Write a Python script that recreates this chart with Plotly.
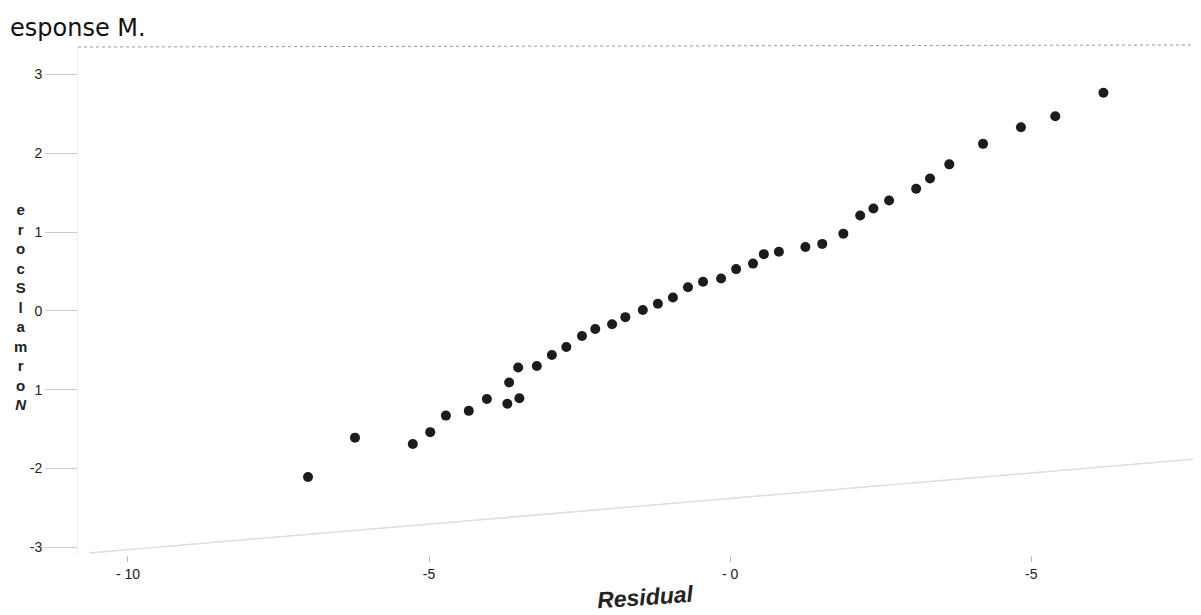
import plotly.graph_objects as go

# Residual (x) and normal score (y) values
residual = [-7.01, -6.23, -5.27, -4.98, -4.72, -4.34, -4.04, -3.70, -3.50, -3.67,
            -3.52, -3.21, -2.96, -2.72, -2.46, -2.24, -1.96, -1.74, -1.45, -1.20,
            -0.95, -0.70, -0.45, -0.15, 0.10, 0.38, 0.56, 0.81, 1.25, 1.53,
            1.88, 2.16, 2.38, 2.64, 3.09, 3.32, 3.64, 4.20, 4.83, 5.40, 6.20]
normal_score = [-2.11, -1.61, -1.69, -1.54, -1.33, -1.27, -1.12, -1.18, -1.11, -0.91,
                -0.72, -0.70, -0.56, -0.46, -0.32, -0.23, -0.17, -0.08, 0.01, 0.09,
                0.17, 0.30, 0.37, 0.41, 0.53, 0.60, 0.72, 0.75, 0.81, 0.85,
                0.98, 1.21, 1.30, 1.40, 1.55, 1.68, 1.86, 2.12, 2.33, 2.47, 2.77]

x_tickvals = [-10, -5, 0, 5]
x_ticktext = ["- 10", "-5", "- 0", "-5"]
y_tickvals = [-3, -2, -1, 0, 1, 2, 3]
y_ticktext = ["-3", "-2", "1", "0", "1", "2", "3"]

fig = go.Figure()
fig.add_trace(go.Scatter(
    x=residual, y=normal_score, mode="markers",
    marker=dict(color="#1c1c1e", size=10, symbol="circle", line=dict(width=0)),
    showlegend=False,
))

fig.update_layout(
    width=1193, height=607,
    margin=dict(l=70, r=0, t=39, b=60, autoexpand=False),
    paper_bgcolor="white", plot_bgcolor="white",
    font=dict(family="Liberation Sans, Arial, sans-serif", color="#222", size=14),
    xaxis=dict(range=[-10.83, 7.82], tickvals=x_tickvals, ticktext=x_ticktext,
               showgrid=False, zeroline=False, showline=False, automargin=False,
               ticks="outside", ticklen=6, tickcolor="#bbb",
               tickfont=dict(size=14, color="#222")),
    yaxis=dict(range=[-3.1, 3.35], tickvals=y_tickvals, ticktext=y_ticktext,
               showgrid=False, zeroline=False, showline=True, linecolor="#eee",
               automargin=False,
               ticks="outside", ticklen=32, tickcolor="#ccc",
               tickfont=dict(size=14, color="#222")),
    shapes=[
        dict(type="line", xref="paper", yref="paper", x0=0, x1=1, y0=1, y1=1.004,
             line=dict(color="#999", width=1, dash="dot")),
        dict(type="line", xref="paper", yref="paper", x0=0.01, x1=1, y0=0.004, y1=0.19,
             line=dict(color="#ddd", width=1.5)),
    ],
    annotations=[
        dict(text="esponse M.", xref="paper", yref="paper", x=-0.0623, y=1.037,
             xanchor="left", yanchor="middle", showarrow=False,
             font=dict(family="DejaVu Sans, Verdana, sans-serif", size=24, color="#111")),
        dict(text="<b><i>Residual</i></b>", xref="paper", yref="paper", x=0.505, y=-0.083,
             xanchor="center", yanchor="middle", showarrow=False, textangle=-4,
             font=dict(family="Liberation Sans, Arial, sans-serif", size=23, color="#222")),
        dict(text="<b>e<br>r<br>o<br>c<br>S<br>l<br>a<br>m<br>r<br>o<br><i>N</i></b>",
             xref="paper", yref="paper", x=-0.0516, y=0.488, xanchor="center", yanchor="middle",
             showarrow=False, align="center",
             font=dict(family="Liberation Sans, Arial, sans-serif", size=15, color="#222")),
    ],
)

fig.write_html("out.html")
